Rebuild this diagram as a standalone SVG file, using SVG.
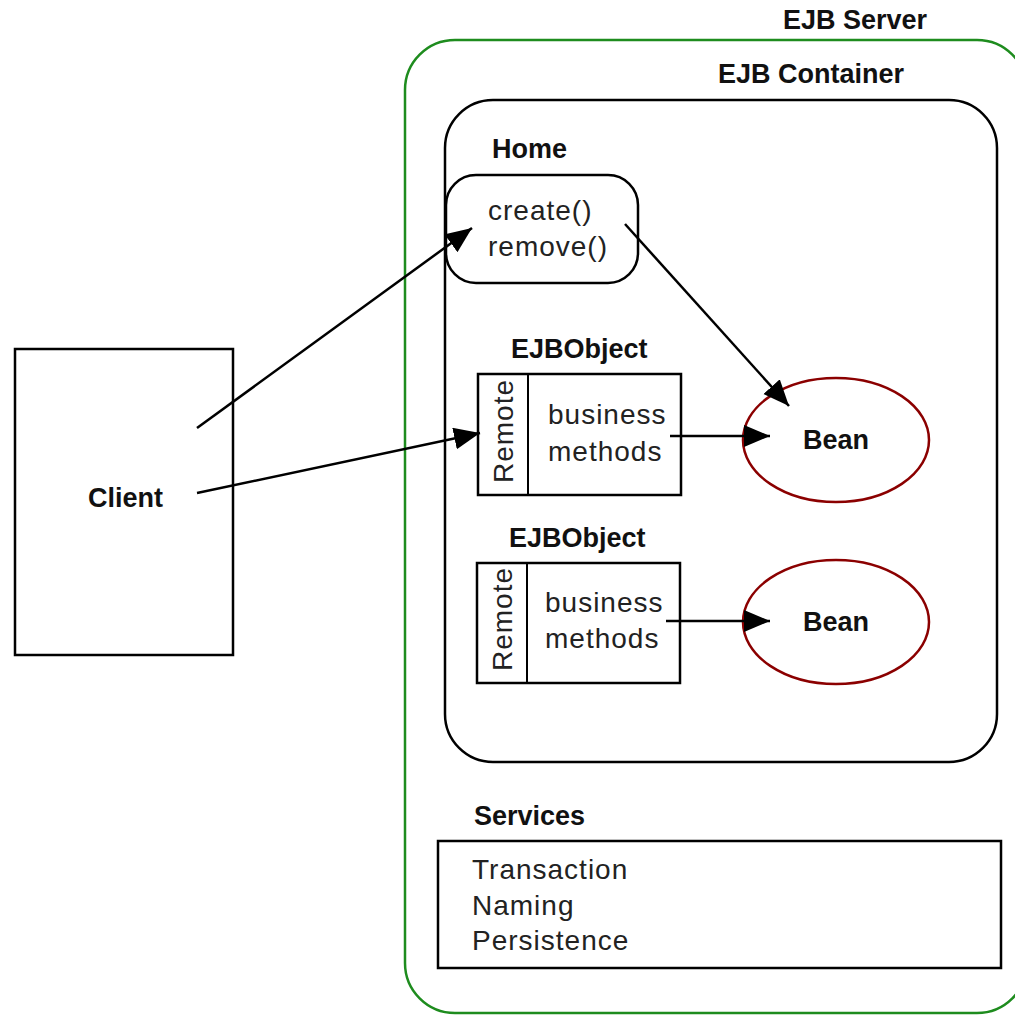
<svg xmlns="http://www.w3.org/2000/svg" width="1015" height="1015" viewBox="0 0 1015 1015">
  <style>
    .title { font-family: "Liberation Sans", Arial, sans-serif; font-weight: bold; font-size: 27px; fill: #111; }
    .item { font-family: "Liberation Sans", Arial, sans-serif; font-size: 28px; letter-spacing: 1px; fill: #222; }
    .box { fill: none; stroke: #000; stroke-width: 2.5; }
    .bean { fill: none; stroke: #8b0000; stroke-width: 2.5; }
    .conn { stroke: #000; stroke-width: 2.5; fill: none; marker-end: url(#arrow); }
  </style>
  <defs>
    <marker id="arrow" markerUnits="userSpaceOnUse" markerWidth="28" markerHeight="24" refX="26" refY="11" orient="auto">
      <path d="M0,0 L26,11 L0,22 Z" fill="#000"/>
    </marker>
  </defs>
  <rect width="1015" height="1015" fill="#fff"/>

  <!-- EJB server boundary -->
  <g id="ejb-server">
    <rect x="405" y="40" width="622" height="973" rx="50" ry="50" fill="none" stroke="#1e8c1e" stroke-width="2.5"/>
    <text class="title" x="783" y="29">EJB Server</text>
  </g>

  <!-- EJB container -->
  <g id="ejb-container">
    <rect class="box" x="445" y="100" width="552" height="662" rx="48" ry="48"/>
    <text class="title" x="718" y="83">EJB Container</text>
  </g>

  <!-- Client -->
  <g id="client">
    <rect class="box" x="15" y="349" width="218" height="306"/>
    <text class="title" x="125.5" y="507" text-anchor="middle">Client</text>
  </g>

  <!-- Home interface -->
  <g id="home">
    <text class="title" x="492" y="158">Home</text>
    <rect class="box" x="446" y="175" width="192" height="108" rx="30" ry="30"/>
    <text class="item" x="488" y="220">create()</text>
    <text class="item" x="488" y="256">remove()</text>
  </g>

  <!-- EJBObject 1 -->
  <g id="ejbobject-1">
    <text class="title" x="511" y="358">EJBObject</text>
    <rect class="box" x="478" y="374" width="203" height="121"/>
    <line x1="528" y1="374" x2="528" y2="495" stroke="#000" stroke-width="2"/>
    <text class="item" transform="translate(513,431) rotate(-90)" text-anchor="middle">Remote</text>
    <text class="item" x="548" y="424">business</text>
    <text class="item" x="548" y="461">methods</text>
  </g>

  <!-- EJBObject 2 -->
  <g id="ejbobject-2">
    <text class="title" x="509" y="547">EJBObject</text>
    <rect class="box" x="477" y="563" width="203" height="120"/>
    <line x1="527" y1="563" x2="527" y2="683" stroke="#000" stroke-width="2"/>
    <text class="item" transform="translate(512,619) rotate(-90)" text-anchor="middle">Remote</text>
    <text class="item" x="545" y="612">business</text>
    <text class="item" x="545" y="648">methods</text>
  </g>

  <!-- Beans -->
  <g id="bean-1">
    <ellipse class="bean" cx="836" cy="440" rx="93" ry="62"/>
    <text class="title" x="836" y="449" text-anchor="middle">Bean</text>
  </g>
  <g id="bean-2">
    <ellipse class="bean" cx="836" cy="622" rx="93" ry="62"/>
    <text class="title" x="836" y="631" text-anchor="middle">Bean</text>
  </g>

  <!-- Container services -->
  <g id="services">
    <text class="title" x="474" y="825">Services</text>
    <rect class="box" x="438" y="841" width="563" height="127"/>
    <text class="item" x="472" y="879">Transaction</text>
    <text class="item" x="472" y="915">Naming</text>
    <text class="item" x="472" y="950">Persistence</text>
  </g>

  <!-- Connectors -->
  <g id="connectors">
    <line class="conn" x1="197" y1="428" x2="472" y2="228"/>
    <line class="conn" x1="197" y1="493" x2="480" y2="433"/>
    <line class="conn" x1="625" y1="224" x2="789" y2="406"/>
    <line class="conn" x1="670" y1="436" x2="770" y2="436"/>
    <line class="conn" x1="666" y1="621" x2="770" y2="621"/>
  </g>
</svg>
